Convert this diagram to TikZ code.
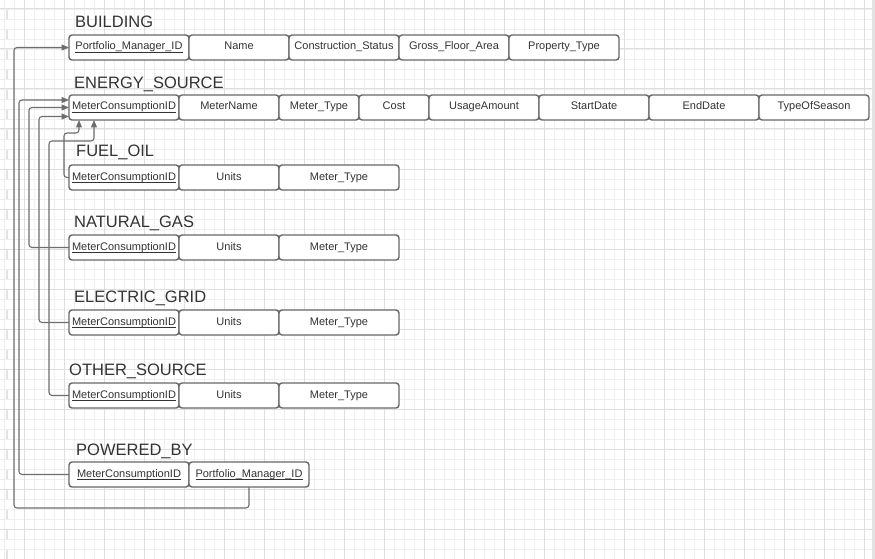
\documentclass[tikz,border=0pt]{standalone}
\usepackage{fontspec}
\setmainfont{Liberation Sans}
\usepackage{xcolor}
\usepackage{tikz}
\usetikzlibrary{positioning}
\usetikzlibrary{arrows.meta}

\definecolor{inkgray}{HTML}{333333}
\definecolor{boxgray}{HTML}{676767}
\definecolor{linegray}{HTML}{6E6E6E}
\definecolor{minorgray}{HTML}{EFEFEF}
\definecolor{majorgray}{HTML}{DEDEDE}
\definecolor{edgegray}{HTML}{E3E3E3}

% key attribute: text with a thin rule just under the baseline
\newcommand{\pkey}[1]{\setbox0=\hbox{#1}\rlap{\rule[-2.6pt]{\wd0}{0.7pt}}\box0}

\begin{document}
\begin{tikzpicture}[x=1pt,y=-1pt,
    cell/.style={draw=boxgray, fill=white, line width=1.4pt, rounded corners=3pt,
      minimum height=25pt, inner sep=0pt, outer sep=0pt, text=inkgray,
      text height=8pt, text depth=3pt,
      font=\fontsize{11}{13}\selectfont},
    title/.style={anchor=base west, inner sep=0pt, text=inkgray,
      font=\fontsize{16.5}{19}\selectfont},
    link/.style={draw=linegray, line width=1.1pt, rounded corners=3pt,
      -{Triangle[length=7.5pt,width=6pt]}},
    minorline/.style={draw=minorgray, line width=0.8pt},
    majorline/.style={draw=majorgray, line width=1pt}]
    \useasboundingbox (0,0) rectangle (875,559);
    \fill[white] (0,0) rectangle (875,559);

    % grid paper
    \foreach \gx in {4,14,...,874} \draw[minorline] (\gx,0) -- (\gx,559);
    \foreach \gy in {9,19,...,559} \draw[minorline] (0,\gy) -- (875,\gy);
    \foreach \gx in {24,64,...,864} \draw[majorline] (\gx,0) -- (\gx,559);
    \foreach \gy in {9,49,...,529} \draw[majorline] (0,\gy) -- (875,\gy);
    \fill[edgegray] (872,0) rectangle (875,559);
    \draw[edgegray, line width=2pt, dash pattern=on 9pt off 11pt] (7,10) -- (7,559);

    % BUILDING
    \node[title] (tBuilding) at (75,28) {BUILDING};
    \node[cell, anchor=north west, minimum width=120pt] (bPMID) at (69,35) {\pkey{Portfolio\_Manager\_ID}};
    \node[cell, minimum width=100pt, right=0pt of bPMID] (bName) {Name};
    \node[cell, minimum width=110pt, right=0pt of bName] (bCStatus) {Construction\_Status};
    \node[cell, minimum width=110pt, right=0pt of bCStatus] (bGFArea) {Gross\_Floor\_Area};
    \node[cell, minimum width=110pt, right=0pt of bGFArea] (bPType) {Property\_Type};

    % ENERGY_SOURCE
    \node[title] (tEnergy) at (74,89) {ENERGY\_SOURCE};
    \node[cell, anchor=north west, minimum width=110pt] (esMCID) at (69,95) {\pkey{MeterConsumptionID}};
    \node[cell, minimum width=100pt, right=0pt of esMCID] (esMName) {MeterName};
    \node[cell, minimum width=80pt, right=0pt of esMName] (esMType) {Meter\_Type};
    \node[cell, minimum width=70pt, right=0pt of esMType] (esCost) {Cost};
    \node[cell, minimum width=110pt, right=0pt of esCost] (esUsage) {UsageAmount};
    \node[cell, minimum width=110pt, right=0pt of esUsage] (esStart) {StartDate};
    \node[cell, minimum width=110pt, right=0pt of esStart] (esEnd) {EndDate};
    \node[cell, minimum width=110pt, right=0pt of esEnd] (esSeason) {TypeOfSeason};

    % FUEL_OIL
    \node[title] (tFuel) at (76,157) {FUEL\_OIL};
    \node[cell, anchor=north west, minimum width=110pt] (foMCID) at (69,165) {\pkey{MeterConsumptionID}};
    \node[cell, minimum width=100pt, right=0pt of foMCID] (foUnits) {Units};
    \node[cell, minimum width=120pt, right=0pt of foUnits] (foMType) {Meter\_Type};

    % NATURAL_GAS
    \node[title] (tGas) at (74,227) {NATURAL\_GAS};
    \node[cell, anchor=north west, minimum width=110pt] (ngMCID) at (69,235) {\pkey{MeterConsumptionID}};
    \node[cell, minimum width=100pt, right=0pt of ngMCID] (ngUnits) {Units};
    \node[cell, minimum width=120pt, right=0pt of ngUnits] (ngMType) {Meter\_Type};

    % ELECTRIC_GRID
    \node[title] (tGrid) at (74,302) {ELECTRIC\_GRID};
    \node[cell, anchor=north west, minimum width=110pt] (egMCID) at (69,310) {\pkey{MeterConsumptionID}};
    \node[cell, minimum width=100pt, right=0pt of egMCID] (egUnits) {Units};
    \node[cell, minimum width=120pt, right=0pt of egUnits] (egMType) {Meter\_Type};

    % OTHER_SOURCE
    \node[title] (tOther) at (69,375) {OTHER\_SOURCE};
    \node[cell, anchor=north west, minimum width=110pt] (osMCID) at (69,383) {\pkey{MeterConsumptionID}};
    \node[cell, minimum width=100pt, right=0pt of osMCID] (osUnits) {Units};
    \node[cell, minimum width=120pt, right=0pt of osUnits] (osMType) {Meter\_Type};

    % POWERED_BY
    \node[title] (tPowered) at (76,455) {POWERED\_BY};
    \node[cell, anchor=north west, minimum width=120pt] (pbMCID) at (69,462) {\pkey{MeterConsumptionID}};
    \node[cell, minimum width=120pt, right=0pt of pbMCID] (pbPMID) {\pkey{Portfolio\_Manager\_ID}};

    % foreign keys
    \draw[link] (pbPMID.south) -- ++(0,21) -| ([xshift=-55pt]bPMID.west) -- (bPMID.west);
    \draw[link] (pbMCID.west) -- ++(-50,0) |- ([yshift=7.5pt]esMCID.west);
    \draw[link] (ngMCID.west) -- ++(-40,0) |- (esMCID.west);
    \draw[link] (egMCID.west) -- ++(-30,0) |- ([yshift=-9pt]esMCID.west);
    \draw[link] (osMCID.west) -- ++(-20,0) |- ([xshift=25pt,yshift=-21pt]esMCID.south west)
      -- ([xshift=25pt]esMCID.south west);
    \draw[link] (foMCID.west) -- ++(-5,0) |- ([xshift=10pt,yshift=-13pt]esMCID.south west)
      -- ([xshift=10pt]esMCID.south west);
\end{tikzpicture}
\end{document}
